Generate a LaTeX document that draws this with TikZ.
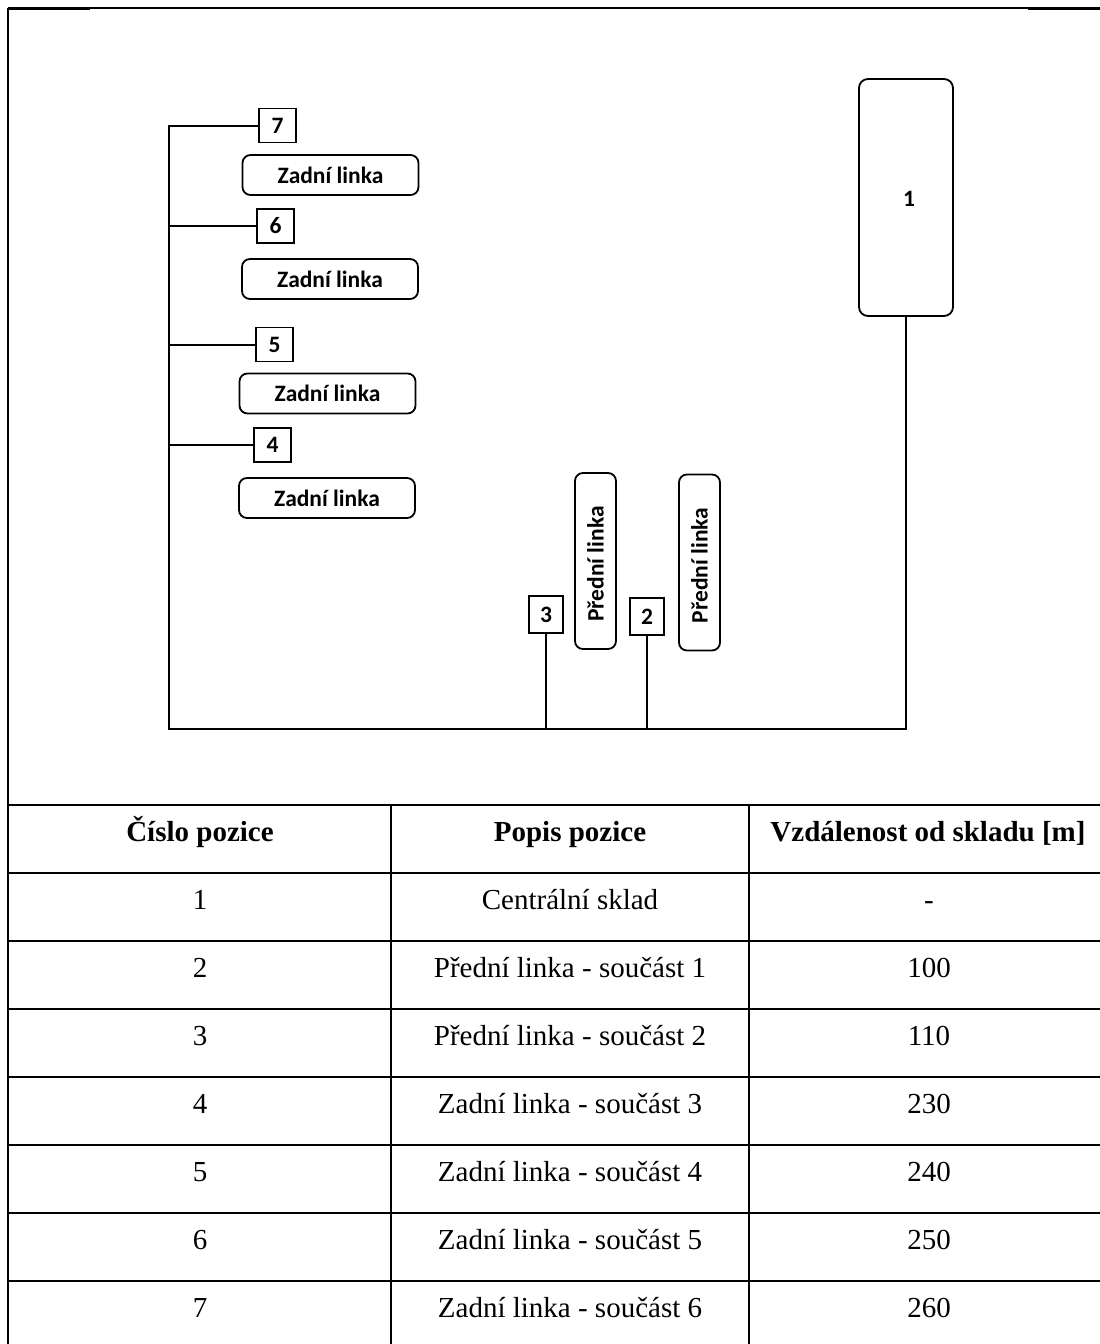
\documentclass[tikz,border=0pt]{standalone}
\usepackage{fontspec}
\setmainfont{Liberation Serif}
\newfontfamily\diagfont{Carlito}
\begin{document}
\begin{tikzpicture}[x=1pt,y=-1pt,
  lw/.style={line width=2pt},
  dfont/.style={font=\diagfont\bfseries\fontsize{23.5}{27}\selectfont},
  numbox/.style={draw, line width=1.8pt, minimum width=37pt, minimum height=34pt, inner sep=0pt, dfont},
  hbox/.style={draw, line width=1.8pt, rounded corners=8pt, minimum width=176pt, minimum height=40pt, inner sep=0pt, dfont},
  vbox/.style={draw, line width=1.8pt, rounded corners=8pt, minimum width=41pt, minimum height=176pt, inner sep=0pt},
  vtext/.style={rotate=90, inner sep=0pt, dfont},
  tab/.style={line width=2pt},
  th/.style={inner sep=0pt, anchor=base, font=\bfseries\fontsize{29}{34}\selectfont},
  td/.style={inner sep=0pt, anchor=base, font=\fontsize{29}{34}\selectfont}
]
\useasboundingbox (0,0) rectangle (1100,1344);

% outer frame
\draw[line width=1.2pt] (8,8) -- (1100,8);
\draw[line width=2pt] (8,8.5) -- (90,8.5);
\draw[line width=2pt] (1028,8.5) -- (1100,8.5);
\draw[line width=2pt] (8,7.5) -- (8,1344);

% diagram nodes
\node[numbox] (n7) at (277.5,125.5) {7};
\node[hbox] (z7) at (330.5,175) {Zadní linka};
\node[numbox] (n6) at (275.5,226) {6};
\node[hbox] (z6) at (330,279) {Zadní linka};
\node[numbox] (n5) at (274.5,344.5) {5};
\node[hbox] (z5) at (327.5,393.5) {Zadní linka};
\node[numbox] (n4) at (272.5,445) {4};
\node[hbox] (z4) at (327,498) {Zadní linka};

\node[numbox, minimum width=34pt, minimum height=37pt] (n3) at (546,614.5) {3};
\node[vbox] (pA) at (595.5,561) {};
\node[vtext] (tA) at ([yshift=-3pt]pA.center) {Přední linka};
\node[numbox, minimum width=34pt, minimum height=37pt] (n2) at (647,616.5) {2};
\node[vbox] (pB) at (699.5,562.5) {};
\node[vtext] (tB) at ([yshift=-3pt]pB.center) {Přední linka};

\node[draw, line width=1.8pt, rounded corners=9pt, minimum width=94pt, minimum height=237pt, inner sep=0pt, dfont] (b1) at (906,197.5) {};
\node[dfont, inner sep=0pt] (l1) at (909,199) {1};

% connectors
\coordinate (top) at (169,125.5);
\coordinate (bl) at (169,729);
\coordinate (br) at (906,729);
\draw[lw] (n7.west) -- (top) -- (bl) -- (br) -- (b1.south);
\draw[lw] (n6.west) -- (n6.west -| top);
\draw[lw] (n5.west) -- (n5.west -| top);
\draw[lw] (n4.west) -- (n4.west -| top);
\draw[lw] (n3.south) -- (n3.south |- bl);
\draw[lw] (n2.south) -- (n2.south |- bl);

% table lines
\foreach \yy in {805,873,941,1009,1077,1145,1213,1281}
  \draw[tab] (8,\yy) -- (1100,\yy);
\draw[tab] (391,805) -- (391,1344);
\draw[tab] (749,805) -- (749,1344);

% table header
\node[th] (h1) at (200,841) {Číslo pozice};
\node[th] (h2) at (570,841) {Popis pozice};
\node[th] (h3) at (928,841) {Vzdálenost od skladu [m]};

% table rows
\node[td] (r1a) at (200,909) {1};
\node[td] (r1b) at (570,909) {Centrální sklad};
\node[td] (r1c) at (929,909) {-};
\node[td] (r2a) at (200,977) {2};
\node[td] (r2b) at (570,977) {Přední linka - součást 1};
\node[td] (r2c) at (929,977) {100};
\node[td] (r3a) at (200,1045) {3};
\node[td] (r3b) at (570,1045) {Přední linka - součást 2};
\node[td] (r3c) at (929,1045) {110};
\node[td] (r4a) at (200,1113) {4};
\node[td] (r4b) at (570,1113) {Zadní linka - součást 3};
\node[td] (r4c) at (929,1113) {230};
\node[td] (r5a) at (200,1181) {5};
\node[td] (r5b) at (570,1181) {Zadní linka - součást 4};
\node[td] (r5c) at (929,1181) {240};
\node[td] (r6a) at (200,1249) {6};
\node[td] (r6b) at (570,1249) {Zadní linka - součást 5};
\node[td] (r6c) at (929,1249) {250};
\node[td] (r7a) at (200,1317) {7};
\node[td] (r7b) at (570,1317) {Zadní linka - součást 6};
\node[td] (r7c) at (929,1317) {260};
\end{tikzpicture}
\end{document}
